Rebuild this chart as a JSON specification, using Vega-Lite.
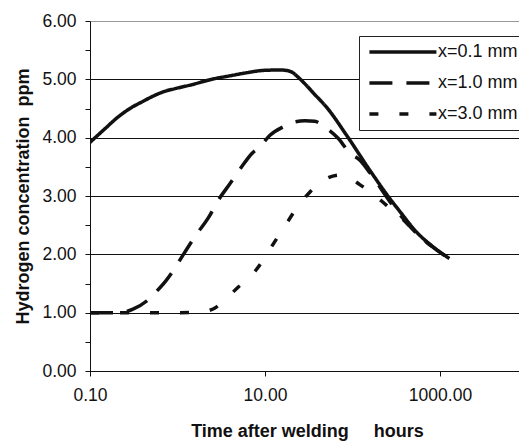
{
  "$schema": "https://vega.github.io/schema/vega-lite/v6.json",
  "width": 429,
  "height": 350,
  "autosize": {"type": "none"},
  "padding": {"left": 90, "top": 21, "right": 0, "bottom": 70},
  "background": "white",
  "config": {"view": {"stroke": null}, "font": "Liberation Sans"},
  "data": {"values": [
    {"series": "x=0.1 mm", "t": 0.1, "c": 3.92},
    {"series": "x=0.1 mm", "t": 0.15, "c": 4.16},
    {"series": "x=0.1 mm", "t": 0.2, "c": 4.33},
    {"series": "x=0.1 mm", "t": 0.286, "c": 4.5},
    {"series": "x=0.1 mm", "t": 0.4, "c": 4.62},
    {"series": "x=0.1 mm", "t": 0.507, "c": 4.7},
    {"series": "x=0.1 mm", "t": 0.7, "c": 4.79},
    {"series": "x=0.1 mm", "t": 0.936, "c": 4.84},
    {"series": "x=0.1 mm", "t": 1.47, "c": 4.91},
    {"series": "x=0.1 mm", "t": 2.45, "c": 5.0},
    {"series": "x=0.1 mm", "t": 3.97, "c": 5.06},
    {"series": "x=0.1 mm", "t": 6, "c": 5.11},
    {"series": "x=0.1 mm", "t": 10, "c": 5.155},
    {"series": "x=0.1 mm", "t": 15, "c": 5.16},
    {"series": "x=0.1 mm", "t": 18, "c": 5.15},
    {"series": "x=0.1 mm", "t": 21, "c": 5.11},
    {"series": "x=0.1 mm", "t": 23, "c": 5.06},
    {"series": "x=0.1 mm", "t": 25, "c": 5.01},
    {"series": "x=0.1 mm", "t": 30, "c": 4.89},
    {"series": "x=0.1 mm", "t": 36, "c": 4.76},
    {"series": "x=0.1 mm", "t": 50.7, "c": 4.52},
    {"series": "x=0.1 mm", "t": 85.7, "c": 4.04},
    {"series": "x=0.1 mm", "t": 158, "c": 3.44},
    {"series": "x=0.1 mm", "t": 269, "c": 2.95},
    {"series": "x=0.1 mm", "t": 350, "c": 2.73},
    {"series": "x=0.1 mm", "t": 541, "c": 2.38},
    {"series": "x=0.1 mm", "t": 800, "c": 2.15},
    {"series": "x=0.1 mm", "t": 1276, "c": 1.93},

    {"series": "x=1.0 mm", "t": 0.1, "c": 1.0},
    {"series": "x=1.0 mm", "t": 0.15, "c": 1.0},
    {"series": "x=1.0 mm", "t": 0.22, "c": 1.0},
    {"series": "x=1.0 mm", "t": 0.31, "c": 1.06},
    {"series": "x=1.0 mm", "t": 0.445, "c": 1.2},
    {"series": "x=1.0 mm", "t": 0.58, "c": 1.37},
    {"series": "x=1.0 mm", "t": 0.74, "c": 1.55},
    {"series": "x=1.0 mm", "t": 0.94, "c": 1.77},
    {"series": "x=1.0 mm", "t": 1.17, "c": 2.0},
    {"series": "x=1.0 mm", "t": 1.66, "c": 2.35},
    {"series": "x=1.0 mm", "t": 2.24, "c": 2.62},
    {"series": "x=1.0 mm", "t": 2.93, "c": 2.93},
    {"series": "x=1.0 mm", "t": 3.97, "c": 3.21},
    {"series": "x=1.0 mm", "t": 5.41, "c": 3.5},
    {"series": "x=1.0 mm", "t": 7.0, "c": 3.72},
    {"series": "x=1.0 mm", "t": 8.8, "c": 3.85},
    {"series": "x=1.0 mm", "t": 11.4, "c": 4.04},
    {"series": "x=1.0 mm", "t": 16.9, "c": 4.2},
    {"series": "x=1.0 mm", "t": 21.9, "c": 4.27},
    {"series": "x=1.0 mm", "t": 28.6, "c": 4.29},
    {"series": "x=1.0 mm", "t": 37, "c": 4.28},
    {"series": "x=1.0 mm", "t": 50.7, "c": 4.16},
    {"series": "x=1.0 mm", "t": 68.5, "c": 3.99},
    {"series": "x=1.0 mm", "t": 93, "c": 3.74},
    {"series": "x=1.0 mm", "t": 120, "c": 3.62},
    {"series": "x=1.0 mm", "t": 158, "c": 3.4},
    {"series": "x=1.0 mm", "t": 269, "c": 2.9},
    {"series": "x=1.0 mm", "t": 541, "c": 2.36},
    {"series": "x=1.0 mm", "t": 800, "c": 2.14},
    {"series": "x=1.0 mm", "t": 1276, "c": 1.93},

    {"series": "x=3.0 mm", "t": 0.1, "c": 1.0},
    {"series": "x=3.0 mm", "t": 0.5, "c": 1.0},
    {"series": "x=3.0 mm", "t": 1.0, "c": 1.0},
    {"series": "x=3.0 mm", "t": 1.8, "c": 1.01},
    {"series": "x=3.0 mm", "t": 2.2, "c": 1.03},
    {"series": "x=3.0 mm", "t": 2.68, "c": 1.08},
    {"series": "x=3.0 mm", "t": 3.5, "c": 1.22},
    {"series": "x=3.0 mm", "t": 4.96, "c": 1.44},
    {"series": "x=3.0 mm", "t": 6.3, "c": 1.57},
    {"series": "x=3.0 mm", "t": 7.7, "c": 1.71},
    {"series": "x=3.0 mm", "t": 9.5, "c": 1.9},
    {"series": "x=3.0 mm", "t": 11.2, "c": 2.07},
    {"series": "x=3.0 mm", "t": 13.5, "c": 2.26},
    {"series": "x=3.0 mm", "t": 16.2, "c": 2.44},
    {"series": "x=3.0 mm", "t": 22.7, "c": 2.78},
    {"series": "x=3.0 mm", "t": 32.7, "c": 3.07},
    {"series": "x=3.0 mm", "t": 50.7, "c": 3.3},
    {"series": "x=3.0 mm", "t": 72, "c": 3.36},
    {"series": "x=3.0 mm", "t": 97, "c": 3.3},
    {"series": "x=3.0 mm", "t": 120, "c": 3.2},
    {"series": "x=3.0 mm", "t": 158, "c": 3.08},
    {"series": "x=3.0 mm", "t": 245, "c": 2.84},
    {"series": "x=3.0 mm", "t": 376, "c": 2.6},
    {"series": "x=3.0 mm", "t": 541, "c": 2.37},
    {"series": "x=3.0 mm", "t": 800, "c": 2.14},
    {"series": "x=3.0 mm", "t": 1276, "c": 1.93}
  ]},
  "mark": {"type": "line", "color": "#111", "interpolate": "monotone", "strokeCap": "butt", "clip": true},
  "encoding": {
    "x": {
      "field": "t", "type": "quantitative",
      "scale": {"type": "log", "domain": [0.1, 8000], "nice": false},
      "axis": {
        "values": [0.1, 10, 1000], "format": ".2f",
        "title": "Time after welding\u00a0\u00a0\u00a0\u00a0\u00a0hours",
        "titleFontSize": 18, "titleFontWeight": "bold", "titleColor": "#111",
        "titleX": 217, "titleY": 65, "titleBaseline": "alphabetic", "titleAlign": "center",
        "labelFontSize": 17.5, "labelColor": "#111", "labelPadding": 10, "labelFlush": false,
        "tickSize": 5, "tickColor": "#111", "domainColor": "#111", "grid": false
      }
    },
    "y": {
      "field": "c", "type": "quantitative",
      "scale": {"domain": [0, 6], "nice": false},
      "axis": {
        "values": [0, 0.5, 1, 1.5, 2, 2.5, 3, 3.5, 4, 4.5, 5, 5.5, 6],
        "labelExpr": "datum.value % 1 === 0 ? format(datum.value, '.2f') : ''",
        "title": "Hydrogen concentration\u00a0\u00a0ppm",
        "titleFontSize": 18, "titleFontWeight": "bold", "titleColor": "#111",
        "titleX": -62, "titleY": 175, "titleBaseline": "alphabetic", "titleAlign": "center", "titleAngle": -90,
        "labelFontSize": 17.5, "labelColor": "#111", "labelPadding": 9, "labelOverlap": false,
        "tickSize": 5,
        "tickColor": "#111", "domainColor": "#111",
        "grid": true,
        "gridColor": {"condition": {"test": "datum.value === 6", "value": "#999"}, "value": "#111"},
        "gridOpacity": {"condition": {"test": "datum.value % 1 !== 0", "value": 0}, "value": 1}
      }
    },
    "strokeWidth": {
      "field": "series", "type": "nominal",
      "scale": {"domain": ["x=0.1 mm", "x=1.0 mm", "x=3.0 mm"], "range": [3.5, 3.5, 4.5]},
      "legend": null
    },
    "strokeDash": {
      "field": "series", "type": "nominal",
      "scale": {"domain": ["x=0.1 mm", "x=1.0 mm", "x=3.0 mm"], "range": [[1, 0], [23, 14], [9, 21]]},
      "legend": {
        "title": null, "orient": "none", "legendX": 269, "legendY": 15, "direction": "vertical",
        "symbolType": "M-1,0H11", "symbolSize": 124.7, "symbolStrokeWidth": 4, "symbolStrokeColor": "#111",
        "labelFontSize": 18, "labelColor": "#111", "labelOffset": 54,
        "padding": 7, "rowPadding": 13, "strokeColor": "#222", "fillColor": "white", "cornerRadius": 0
      }
    }
  }
}
